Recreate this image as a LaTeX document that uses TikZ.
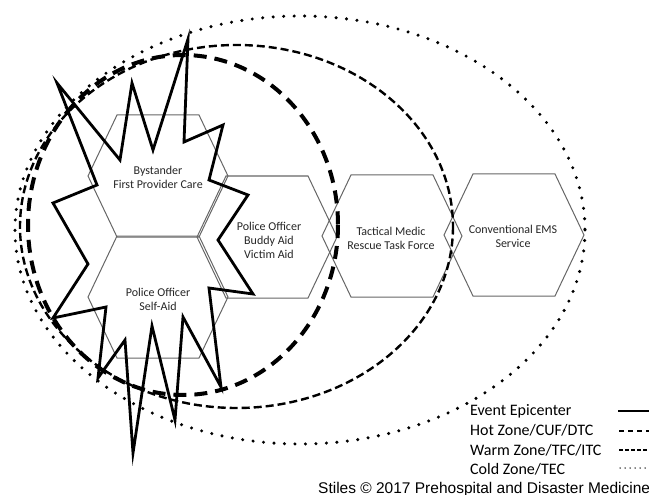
\documentclass[tikz,border=0pt]{standalone}
\usepackage{fontspec}
\setmainfont{Carlito}
\newfontfamily\arialfont{Liberation Sans}
\newcommand\hexshape[2]{\draw[hexbox] (#1-70,#2) -- (#1-41,#2-61) -- (#1+41,#2-61) -- (#1+70,#2) -- (#1+41,#2+61) -- (#1-41,#2+61) -- cycle;}
\begin{document}
\begin{tikzpicture}[x=1pt,y=-1pt,
  hexbox/.style={draw=black!60, line width=1pt},
  hextext/.style={font=\fontsize{12}{14}\selectfont, text=black!85, align=center, inner sep=0pt},
  coldline/.style={line width=3.4pt, line cap=round, dash pattern=on 0pt off 10.5pt},
  warmline/.style={line width=2.4pt, dash pattern=on 8pt off 4pt},
  hotline/.style={line width=4pt, dash pattern=on 13pt off 8pt},
  starline/.style={line width=2.8pt, line join=miter, miter limit=20},
  legtext/.style={font=\fontsize{16}{19}\selectfont, anchor=base west, inner sep=0pt},
  legline/.style={line width=1.8pt},
]
\useasboundingbox (0,0) rectangle (649,495);

% hexagons
\hexshape{158}{176}
\hexshape{158}{297}
\hexshape{267}{237}
\hexshape{392}{236}
\hexshape{514}{235}

% zones
\coordinate (coldc) at (300,230);
\coordinate (warmc) at (236.5,226.5);
\coordinate (hotc) at (183,225);
\draw[coldline] (coldc) ellipse [x radius=285, y radius=214];
\draw[warmline] (warmc) ellipse [x radius=216.5, y radius=181.5];
\draw[hotline] (hotc) ellipse [x radius=155, y radius=170];

% event epicenter
\draw[starline] (57,83) -- (120,160) -- (132,83) -- (153,150) -- (188,39) -- (184,142)
  -- (223,125) -- (209,180) -- (248,195) -- (218,240) -- (253,294) -- (209,288)
  -- (221,387) -- (183,317) -- (175,420) -- (152,326) -- (133,453) -- (125,340)
  -- (98,378) -- (106,307) -- (53,318) -- (88,264) -- (53,203) -- (97,185) -- cycle;

% hexagon texts
\node[hextext] (bystander) at (158,177) {Bystander\\First Provider Care};
\node[hextext] (selfaid) at (158,299) {Police Officer\\Self-Aid};
\node[hextext] (buddy) at (269,240) {Police Officer\\Buddy Aid\\Victim Aid};
\node[hextext] (tactical) at (391,238) {Tactical Medic\\Rescue Task Force};
\node[hextext] (ems) at (513,236) {Conventional EMS\\Service};

% legend
\node[legtext] (l1) at (470,415.5) {Event Epicenter};
\node[legtext] (l2) at (470,435.3) {Hot Zone/CUF/DTC};
\node[legtext] (l3) at (470,455.1) {Warm Zone/TFC/ITC};
\node[legtext] (l4) at (470,474.9) {Cold Zone/TEC};
\coordinate (s1a) at (618,411); \coordinate (s1b) at (652,411);
\coordinate (s2a) at (619,431); \coordinate (s2b) at (652,431);
\coordinate (s3a) at (619,450); \coordinate (s3b) at (652,450);
\coordinate (s4a) at (620,468); \coordinate (s4b) at (652,468);
\draw[legline] (s1a) -- (s1b);
\draw[legline, dash pattern=on 5pt off 4pt] (s2a) -- (s2b);
\draw[legline, dash pattern=on 4pt off 2pt] (s3a) -- (s3b);
\draw[line width=1.5pt, line cap=round, dash pattern=on 0pt off 5pt] (s4a) -- (s4b);

% credit
\node[anchor=base west, inner sep=0pt, font=\arialfont\fontsize{15.5}{18}\selectfont] (credit) at (318,493) {Stiles \textcopyright{} 2017 Prehospital and Disaster Medicine};
\end{tikzpicture}
\end{document}
